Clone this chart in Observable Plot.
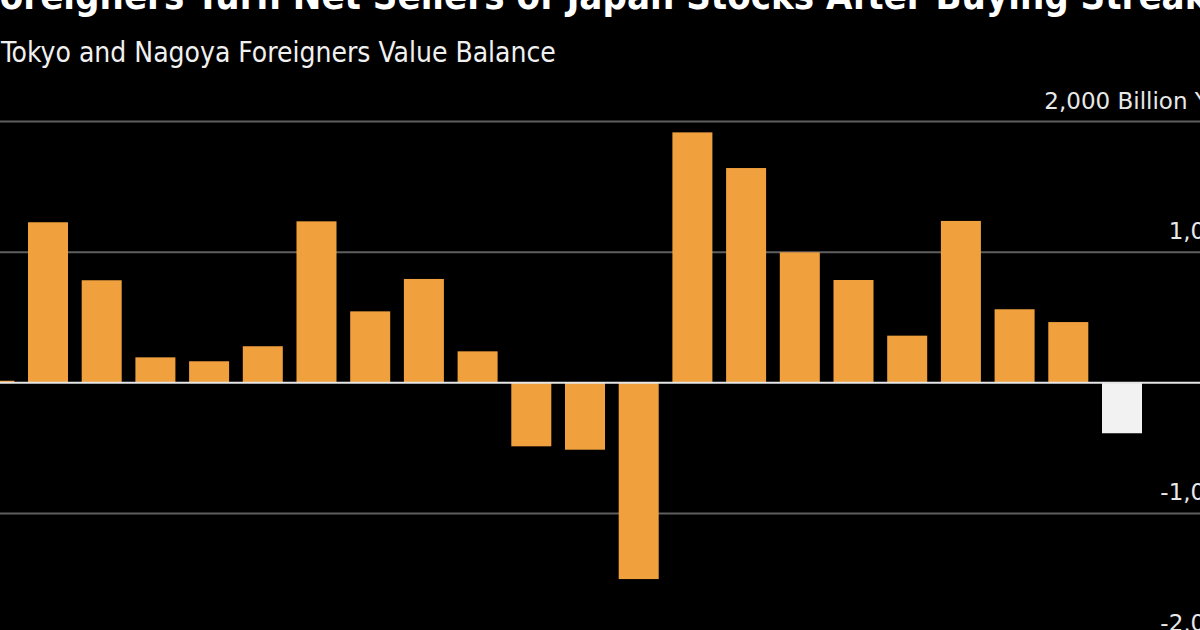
<!DOCTYPE html>
<html>
<head>
<meta charset="utf-8">
<script src="https://cdn.jsdelivr.net/npm/d3@7"></script>
<script src="https://cdn.jsdelivr.net/npm/@observablehq/plot@0.6"></script>
<style>
  html, body { margin: 0; padding: 0; background: #000; }
  body { width: 1200px; height: 630px; overflow: hidden; position: relative; }
  .title, .subtitle { position: absolute; white-space: nowrap; color: #fff; line-height: 1; font-family: "DejaVu Sans", sans-serif; font-stretch: condensed; }
  .title { left: -22px; top: -23px; font-size: 38px; font-weight: bold; }
  .subtitle { left: 1px; top: 39px; font-size: 28px; color: #f0f0f0; }
  #chart { position: absolute; left: -40px; top: 80px; width: 1276px; }
</style>
</head>
<body>
<div class="title">Foreigners Turn Net Sellers of Japan Stocks After Buying Streak</div>
<div class="subtitle">Tokyo and Nagoya Foreigners Value Balance</div>
<div id="chart"></div>
<script>
// Weekly net balance of foreign investors, billion yen
const weeks = ["W01","W02","W03","W04","W05","W06","W07","W08","W09","W10","W11",
               "W12","W13","W14","W15","W16","W17","W18","W19","W20","W21","W22"];
const netBalance = [12, 1225, 781, 191, 161, 276, 1232, 543, 791, 237, -490,
                    -516, -1506, 1913, 1640, 995, 783, 357, 1235, 559, 461, -390];
const yTicks = [-2000, -1000, 0, 1000, 2000];
const unitLabel = "Billion Yen";

const rows = weeks.map((week, i) => ({week, value: netBalance[i]}));
const latest = weeks[weeks.length - 1];

// plain hyphen for negatives, comma thousands separator
const fmt = d => d3.format(",")(d).replace("\u2212", "-");
const W = 1276, H = 580;

const chart = Plot.plot({
  width: W,
  height: H,
  marginLeft: 0,
  marginRight: 0,
  marginTop: 0,
  marginBottom: 0,
  style: {background: "transparent", color: "#e8e8e8", fontFamily: "DejaVu Sans, sans-serif", overflow: "visible", maxWidth: "none"},
  x: {domain: weeks, range: [7.45, 1188.85], paddingInner: 0.255, paddingOuter: 0.1275, round: false, axis: null},
  y: {domain: [-2000, 2000], range: [563.6, 41], axis: null},
  marks: [
    Plot.ruleY(yTicks.filter(t => t !== 0), {stroke: "#5f5f5f", strokeWidth: 2}),
    Plot.barY(rows.filter(d => d.week !== latest), {x: "week", y: "value", fill: "#f0a03c"}),
    Plot.barY(rows.filter(d => d.week === latest), {x: "week", y: "value", fill: "#f2f2f2"}),
    Plot.ruleY([0], {stroke: "#e6e6e6", strokeWidth: 2}),
    Plot.axisY(yTicks, {
      anchor: "right",
      label: null,
      tickSize: 0,
      tickPadding: 0,
      textAnchor: "end",
      lineAnchor: "bottom",
      dx: -2,
      dy: -13,
      fontSize: 23,
      fill: "#e8e8e8",
      tickFormat: d => d === 2000 ? `${fmt(d)} ${unitLabel}` : fmt(d)
    })
  ]
});

document.getElementById("chart").append(chart);
</script>
</body>
</html>
